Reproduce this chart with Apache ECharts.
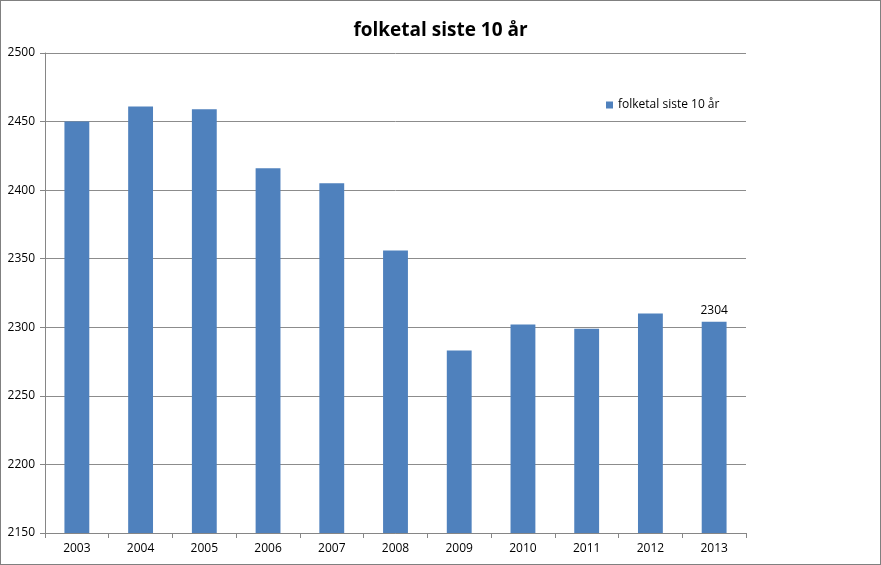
<!DOCTYPE html>
<html><head><meta charset="utf-8">
<script src="https://cdn.jsdelivr.net/npm/echarts@6/dist/echarts.min.js"></script>
<style>
html,body{margin:0;padding:0;background:#fff;}
#c{width:881px;height:565px;box-sizing:border-box;border:1px solid #808080;}
</style></head><body>
<div id="c"></div>
<script>
const years = ['2003','2004','2005','2006','2007','2008','2009','2010','2011','2012','2013'];
const population = [2450,2461,2459,2416,2405,2356,2283,2302,2299,2310,2304];
const seriesName = 'folketal siste 10 år';
const labelled = {2013:true};

const chart = echarts.init(document.getElementById('c'), null, {renderer:'canvas'});
const font = 'Open Sans, Liberation Sans, sans-serif';
chart.setOption({
  animation:false,
  title:{text:'folketal siste 10 år',left:'center',top:15,textStyle:{fontFamily:font,fontSize:19,fontWeight:'bold',color:'#000'}},
  legend:{data:[seriesName],left:600,top:93,icon:'rect',itemWidth:7,itemHeight:7,itemGap:4,textStyle:{fontFamily:font,fontSize:12,color:'#000'}},
  grid:{left:44,right:134,top:52,bottom:31,containLabel:false},
  xAxis:{type:'category',data:years,boundaryGap:true,
    axisLine:{lineStyle:{color:'#868686'}},
    axisTick:{show:true,alignWithLabel:false,length:5,lineStyle:{color:'#868686'}},
    axisLabel:{fontFamily:font,fontSize:12,color:'#000',margin:10}},
  yAxis:{type:'value',min:2150,max:2500,interval:50,
    axisLine:{show:true,lineStyle:{color:'#868686'}},
    axisTick:{show:true,length:5,lineStyle:{color:'#868686'}},
    splitLine:{lineStyle:{color:'#8c8c8c'}},
    axisLabel:{fontFamily:font,fontSize:12,color:'#000',margin:10,formatter:v=>String(v)}},
  series:[{name:seriesName,type:'bar',barWidth:'39%',
    data:population.map((v,i)=>({value:v,label:{show:!!labelled[years[i]]}})),
    itemStyle:{color:'#4F81BD'},
    label:{position:'top',distance:5,fontFamily:font,fontSize:12,color:'#000'}}]
});
</script></body></html>
